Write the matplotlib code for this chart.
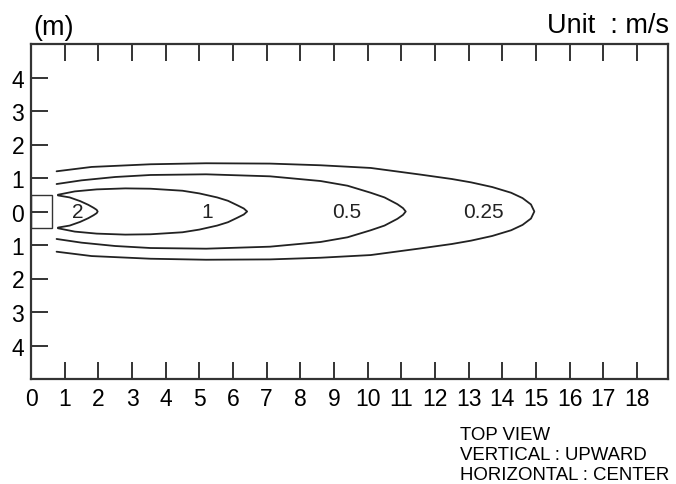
import numpy as np
import matplotlib
matplotlib.use("Agg")
import matplotlib.pyplot as plt
from matplotlib.patches import Rectangle

plt.rcParams['font.family'] = ['Liberation Sans', 'DejaVu Sans']

# --------- contour data (upper half; lower half is mirrored) ---------
c2_x = [0.80, 1.15, 1.46, 1.70, 1.86, 1.95, 1.98]
c2_y = [0.48, 0.42, 0.31, 0.20, 0.11, 0.05, 0.0]

c1_x = [0.80, 1.30, 1.95, 2.80, 3.55, 4.50, 5.00, 5.53, 5.85, 6.12, 6.32, 6.42]
c1_y = [0.50, 0.60, 0.66, 0.69, 0.68, 0.62, 0.54, 0.42, 0.32, 0.19, 0.09, 0.0]

c05_x = [0.76, 1.50, 2.50, 3.55, 5.20, 7.10, 8.60, 9.40, 10.09, 10.50, 10.88, 11.05, 11.13]
c05_y = [0.82, 0.93, 1.03, 1.09, 1.11, 1.05, 0.91, 0.77, 0.56, 0.42, 0.22, 0.10, 0.0]

c025_x = [0.76, 1.80, 3.55, 5.20, 7.10, 8.60, 10.09, 11.58, 12.50, 13.07, 13.70, 14.26, 14.60, 14.85, 14.95]
c025_y = [1.20, 1.33, 1.41, 1.44, 1.43, 1.38, 1.30, 1.10, 0.97, 0.87, 0.73, 0.56, 0.40, 0.21, 0.0]

contours = [(c2_x, c2_y), (c1_x, c1_y), (c05_x, c05_y), (c025_x, c025_y)]
level_labels = ['2', '1', '0.5', '0.25']
label_x = [1.40, 5.23, 9.37, 13.44]

x_ticks = list(range(0, 19))
y_ticks = [-4, -3, -2, -1, 0, 1, 2, 3, 4]

fig = plt.figure(figsize=(6.76, 4.85), dpi=100)
ax = fig.add_axes([31/676, 1-380/485, (668-31)/676, (380-45)/485])

for cx, cy in contours:
    cx = np.array(cx); cy = np.array(cy)
    xs = np.concatenate([cx, cx[::-1][1:]])
    ys = np.concatenate([cy, -cy[::-1][1:]])
    ax.plot(xs, ys, color='#222222', lw=1.3, solid_capstyle='round')

for lab, lx in zip(level_labels, label_x):
    ax.text(lx, 0, lab, ha='center', va='center', fontsize=15, color='#222222')

# nozzle
ax.add_patch(Rectangle((0, -0.5), 0.62, 1.0, fill=False, ec='#333333', lw=1.0))

ax.set_xlim(0, 18.92)
ax.set_ylim(-5, 5)
ax.set_xticks(x_ticks)
ax.set_xticklabels([str(v) for v in x_ticks])
ax.set_yticks(y_ticks)
ax.set_yticklabels([str(abs(v)) for v in y_ticks])
ax.tick_params(axis='x', direction='in', length=12, width=1.4, top=True, bottom=True,
               labelsize=16.5, pad=6, color='#333333')
ax.tick_params(axis='y', direction='in', length=12, width=1.4, left=True, right=False,
               labelsize=16.5, pad=5, color='#333333')
for s in ax.spines.values():
    s.set_linewidth(1.6)
    s.set_color('#333333')

fig.text(33/676, 1-35/485, '(m)', ha='left', va='baseline', fontsize=19.5)
fig.text(669/676, 1-33/485, 'Unit  : m/s', ha='right', va='baseline', fontsize=19.5)

fig.text(460/676, 1-440/485, 'TOP VIEW', ha='left', va='baseline', fontsize=13.4)
fig.text(460/676, 1-460/485, 'VERTICAL : UPWARD', ha='left', va='baseline', fontsize=13.4)
fig.text(460/676, 1-480/485, 'HORIZONTAL : CENTER', ha='left', va='baseline', fontsize=13.4)

fig.savefig('out.png', dpi=100)
